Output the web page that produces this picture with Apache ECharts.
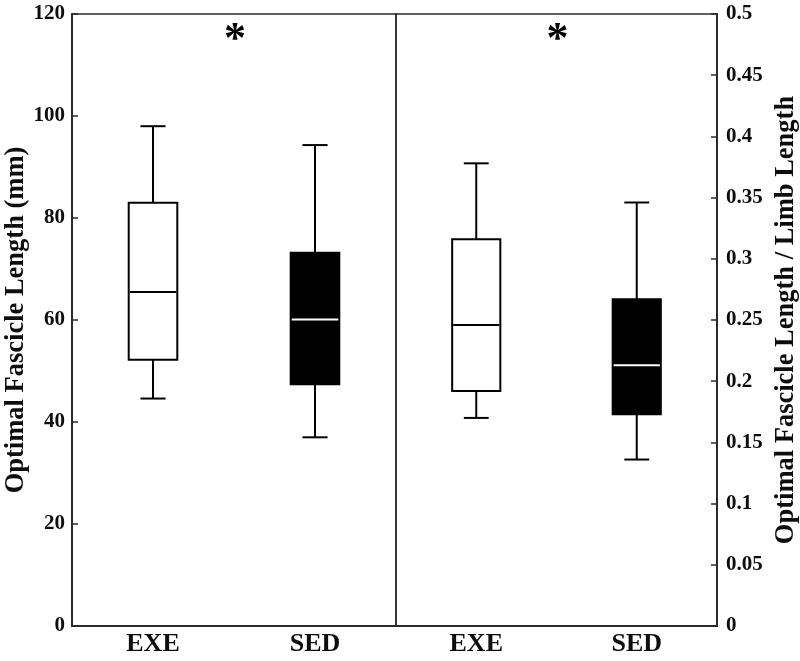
<!DOCTYPE html>
<html>
<head>
<meta charset="utf-8">
<script src="https://cdn.jsdelivr.net/npm/echarts@6/dist/echarts.min.js"></script>
<style>
html,body{margin:0;padding:0;background:#fff;}
#chart{width:800px;height:661px;}
</style>
</head>
<body>
<div id="chart"></div>
<script>
// ---- data ----
var categories = ['EXE', 'SED'];
// Optimal fascicle length (mm): min, Q1, median, Q3, max
var absMin = [44.6, 37.0];
var absQ1  = [52.2, 47.4];
var absMed = [65.5, 60.1];
var absQ3  = [83.0, 73.2];
var absMax = [98.0, 94.3];
// Optimal fascicle length / limb length
var relMin = [0.170, 0.136];
var relQ1  = [0.192, 0.173];
var relMed = [0.246, 0.213];
var relQ3  = [0.316, 0.267];
var relMax = [0.378, 0.346];
// significance markers (value position on y axis)
var sigText = '*';
var absSigY = 116.5;
var relSigY = 0.4855;
var leftTicks = { min: 0, max: 120, interval: 20 };
var rightTicks = { min: 0, max: 0.5, interval: 0.05 };

var fillColors = ['#ffffff', '#000000'];
var medianColors = ['#000000', '#ffffff'];

function buildData(mn, q1, md, q3, mx) {
  return categories.map(function (c, i) { return [i, mn[i], q1[i], md[i], q3[i], mx[i]]; });
}

function makeRender(sigY) {
  return function (params, api) {
    var idx = api.value(0);
    var band = api.size([1, 0])[0];
    var boxW = band * 0.3;
    var capW = band * 0.155;
    var pMin = api.coord([idx, api.value(1)]);
    var pQ1 = api.coord([idx, api.value(2)]);
    var pMed = api.coord([idx, api.value(3)]);
    var pQ3 = api.coord([idx, api.value(4)]);
    var pMax = api.coord([idx, api.value(5)]);
    var x = pQ1[0];
    var lw = 2;
    var stroke = '#000';
    var children = [
      { type: 'line', shape: { x1: x, y1: pQ3[1], x2: x, y2: pMax[1] }, style: { stroke: stroke, lineWidth: lw } },
      { type: 'line', shape: { x1: x - capW / 2, y1: pMax[1], x2: x + capW / 2, y2: pMax[1] }, style: { stroke: stroke, lineWidth: lw } },
      { type: 'line', shape: { x1: x, y1: pQ1[1], x2: x, y2: pMin[1] }, style: { stroke: stroke, lineWidth: lw } },
      { type: 'line', shape: { x1: x - capW / 2, y1: pMin[1], x2: x + capW / 2, y2: pMin[1] }, style: { stroke: stroke, lineWidth: lw } },
      { type: 'rect', shape: { x: x - boxW / 2, y: pQ3[1], width: boxW, height: pQ1[1] - pQ3[1] },
        style: { fill: fillColors[idx], stroke: stroke, lineWidth: lw } },
      { type: 'line', shape: { x1: x - boxW / 2 + 1, y1: pMed[1], x2: x + boxW / 2 - 1, y2: pMed[1] },
        style: { stroke: medianColors[idx], lineWidth: lw } }
    ];
    if (idx === 0) {
      var p0 = api.coord([0, sigY]);
      var p1 = api.coord([1, sigY]);
      children.push({
        type: 'text',
        style: {
          text: sigText, x: (p0[0] + p1[0]) / 2, y: p0[1],
          align: 'center', verticalAlign: 'middle',
          font: 'bold 44px "Liberation Serif"', fill: '#000'
        },
        x: 1,
        y: 9
      });
    }
    return { type: 'group', children: children };
  };
}

var axisLineStyle = { color: '#2a2a2a', width: 2 };
var tickLabelStyle = { fontFamily: 'Liberation Serif', fontWeight: 'bold', fontSize: 21, color: '#0d0d0d' };
var catLabelStyle = { fontFamily: 'Liberation Serif', fontWeight: 'bold', fontSize: 26, color: '#0d0d0d' };
var nameStyle = { fontFamily: 'Liberation Serif', fontWeight: 'bold', fontSize: 26.5, color: '#0d0d0d' };

var chart = echarts.init(document.getElementById('chart'), null, { renderer: 'canvas' });
chart.setOption({
  animation: false,
  backgroundColor: '#ffffff',
  grid: [
    { left: 72, right: 404, top: 14, bottom: 35, show: true, borderColor: '#2a2a2a', borderWidth: 1.5, backgroundColor: 'transparent', containLabel: false, outerBoundsMode: 'none' },
    { left: 396, right: 83, top: 14, bottom: 35, show: true, borderColor: '#2a2a2a', borderWidth: 1.5, backgroundColor: 'transparent', containLabel: false, outerBoundsMode: 'none' }
  ],
  xAxis: [
    { type: 'category', gridIndex: 0, data: categories, boundaryGap: true,
      axisLine: { lineStyle: axisLineStyle }, axisTick: { inside: true, length: 6, alignWithLabel: true, lineStyle: { color: '#2a2a2a', width: 1.5 } },
      axisLabel: Object.assign({ margin: 5 }, catLabelStyle), splitLine: { show: false } },
    { type: 'category', gridIndex: 1, data: categories, boundaryGap: true,
      axisLine: { lineStyle: axisLineStyle }, axisTick: { inside: true, length: 6, alignWithLabel: true, lineStyle: { color: '#2a2a2a', width: 1.5 } },
      axisLabel: Object.assign({ margin: 5 }, catLabelStyle), splitLine: { show: false } }
  ],
  yAxis: [
    { type: 'value', gridIndex: 0, position: 'left', min: leftTicks.min, max: leftTicks.max, interval: leftTicks.interval,
      name: 'Optimal Fascicle Length (mm)', nameLocation: 'middle', nameRotate: 90, nameGap: 38, nameTextStyle: nameStyle,
      axisLine: { show: true, lineStyle: axisLineStyle }, axisTick: { show: true, inside: true, length: 6, lineStyle: { color: '#2a2a2a', width: 1.5 } },
      axisLabel: Object.assign({ margin: 7 }, tickLabelStyle), splitLine: { show: false } },
    { type: 'value', gridIndex: 1, position: 'right', min: rightTicks.min, max: rightTicks.max, interval: rightTicks.interval,
      name: 'Optimal Fascicle Length / Limb Length', nameLocation: 'middle', nameRotate: 90, nameGap: 56, nameTextStyle: nameStyle,
      axisLine: { show: true, lineStyle: axisLineStyle }, axisTick: { show: true, inside: true, length: 6, lineStyle: { color: '#2a2a2a', width: 1.5 } },
      axisLabel: Object.assign({ margin: 9, formatter: function (v) { return String(Math.round(v * 100) / 100); } }, tickLabelStyle),
      splitLine: { show: false } }
  ],
  series: [
    { type: 'custom', xAxisIndex: 0, yAxisIndex: 0, renderItem: makeRender(absSigY),
      encode: { x: 0, y: [1, 2, 3, 4, 5] }, data: buildData(absMin, absQ1, absMed, absQ3, absMax), clip: false },
    { type: 'custom', xAxisIndex: 1, yAxisIndex: 1, renderItem: makeRender(relSigY),
      encode: { x: 0, y: [1, 2, 3, 4, 5] }, data: buildData(relMin, relQ1, relMed, relQ3, relMax), clip: false }
  ]
});
</script>
</body>
</html>
